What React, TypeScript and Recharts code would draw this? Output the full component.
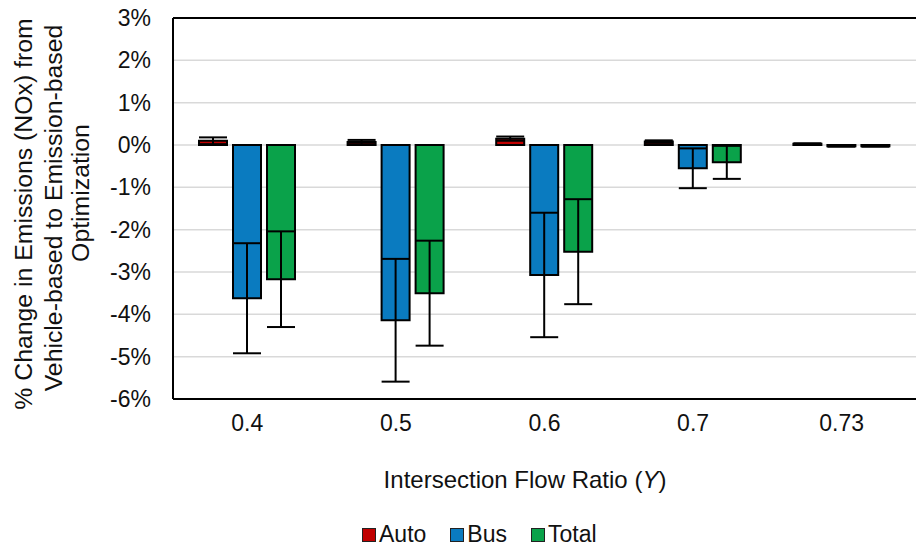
import React from 'react'
import { BarChart, Bar, XAxis, YAxis, CartesianGrid, ErrorBar, ReferenceLine } from 'recharts'

const ratios = ['0.4', '0.5', '0.6', '0.7', '0.73']

// % change per mode, with symmetric error half-widths
const auto = [0.1, 0.07, 0.15, 0.08, 0.03]
const autoErr = [0.08, 0.05, 0.05, 0.03, 0.01]
const bus = [-3.62, -4.14, -3.07, -0.55, -0.03]
const busErr = [1.3, 1.45, 1.47, 0.47, 0.01]
const total = [-3.17, -3.5, -2.52, -0.41, -0.03]
const totalErr = [1.13, 1.24, 1.24, 0.39, 0.01]

const yTicks = [-6, -5, -4, -3, -2, -1, 0, 1, 2, 3]

const data = ratios.map((r, i) => ({
  ratio: r,
  auto: auto[i],
  autoErr: autoErr[i],
  bus: bus[i],
  busErr: busErr[i],
  total: total[i],
  totalErr: totalErr[i],
}))

const FONT = "'Liberation Sans', Arial, sans-serif"
const INK = '#111'

const series = [
  { key: 'auto', err: 'autoErr', name: 'Auto', color: '#C00000' },
  { key: 'bus', err: 'busErr', name: 'Bus', color: '#0A7BC0' },
  { key: 'total', err: 'totalErr', name: 'Total', color: '#0AA24A' },
]

const YTitle = () => (
  <g fontFamily={FONT} fontSize={24.8} fill={INK} textAnchor="middle">
    <text transform="translate(32,214) rotate(-90)">% Change in Emissions (NOx) from</text>
    <text transform="translate(62,208) rotate(-90)">Vehicle-based to Emission-based</text>
    <text transform="translate(89,193) rotate(-90)">Optimization</text>
  </g>
)

const XTitle = () => (
  <text x={525} y={488} textAnchor="middle" fontFamily={FONT} fontSize={24} fill={INK}>
    Intersection Flow Ratio (<tspan fontStyle="italic">Y</tspan>)
  </text>
)

const LegendRow = () => (
  <div
    style={{
      position: 'absolute',
      left: 362,
      top: 521,
      display: 'flex',
      alignItems: 'center',
      fontFamily: FONT,
      fontSize: 23,
      color: INK,
    }}
  >
    {series.map((s, i) => (
      <div key={s.key} style={{ display: 'flex', alignItems: 'center', marginRight: i < 2 ? 24 : 0 }}>
        <span
          style={{
            width: 12,
            height: 12,
            background: s.color,
            border: '1.5px solid #222',
            marginRight: 3,
          }}
        />
        <span>{s.name}</span>
      </div>
    ))}
  </div>
)

export default function App() {
  return (
    <div style={{ position: 'absolute', left: 0, top: 0, width: 916, height: 546, background: '#fff' }}>
      <BarChart
        width={916}
        height={546}
        data={data}
        margin={{ top: 18, right: 0, bottom: 0, left: 0 }}
        barSize={28}
        barGap={6}
      >
        <CartesianGrid vertical={false} stroke="#D9D9D9" strokeWidth={1.5} />
        <XAxis
          dataKey="ratio"
          height={147}
          axisLine={{ stroke: '#000', strokeWidth: 2 }}
          tickLine={false}
          tickSize={0}
          tickMargin={16}
          tick={{ fontFamily: FONT, fontSize: 23, fill: INK }}
          label={{ content: () => <XTitle /> }}
        />
        <YAxis
          width={173}
          domain={[-6, 3]}
          ticks={yTicks}
          interval={0}
          tickFormatter={(v: number) => `${v}%`}
          axisLine={{ stroke: '#000', strokeWidth: 2 }}
          tickLine={false}
          tickSize={0}
          tickMargin={22}
          tick={{ fontFamily: FONT, fontSize: 23, fill: INK }}
          label={{ content: () => <YTitle /> }}
        />
        <ReferenceLine y={3} stroke="#000" strokeWidth={2} />
        {series.map((s) => (
          <Bar
            key={s.key}
            dataKey={s.key}
            name={s.name}
            fill={s.color}
            stroke="#000"
            strokeWidth={2}
            isAnimationActive={false}
          >
            <ErrorBar dataKey={s.err} width={14} stroke="#000" strokeWidth={2} direction="y" />
          </Bar>
        ))}
      </BarChart>
      <LegendRow />
    </div>
  )
}
